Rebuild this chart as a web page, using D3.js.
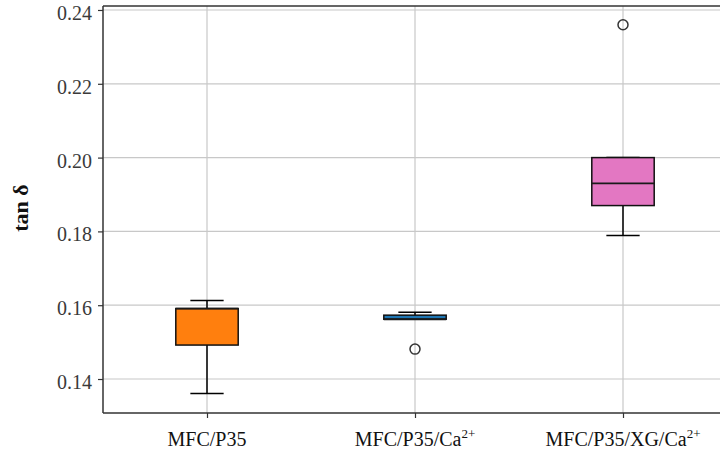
<!DOCTYPE html>
<html><head><meta charset="utf-8">
<script src="https://cdn.jsdelivr.net/npm/d3@7"></script>
<style>body{margin:0;background:#fff;}svg{display:block;}</style>
</head><body>
<svg id="c" width="720" height="454"></svg>
<script>
const categories = ["MFC/P35", "MFC/P35/Ca", "MFC/P35/XG/Ca"];
const superscripts = ["", "2+", "2+"];
const whiskerLow = [0.1361, 0.1562, 0.1789];
const q1 = [0.1492, 0.1562, 0.1870];
const median = [0.1591, 0.1562, 0.1930];
const q3 = [0.1591, 0.1573, 0.2000];
const whiskerHigh = [0.1613, 0.1581, 0.2000];
const outliers = [[], [0.1481], [0.2360]];
const colors = ["#ff7f0e", "#1f77b4", "#e377c2"];
const yTicks = [0.14, 0.16, 0.18, 0.20, 0.22, 0.24];
const yLabel = "tan δ";

const svg = d3.select("#c");
const mLeft = 103, mTop = 6, mBottom = 413, step = 208;
const x = d3.scaleLinear().domain([0.5, 3.5]).range([mLeft, mLeft + 3 * step]);
const y = d3.scaleLinear().domain([0.13079, 0.24108]).range([mBottom, mTop]);
const boxW = 0.3, capW = 0.16;

// grid
const g = svg.append("g");
g.selectAll(".hg").data(yTicks).join("line")
  .attr("x1", mLeft).attr("x2", 760).attr("y1", d => y(d)).attr("y2", d => y(d))
  .attr("stroke", "#c8c8c8").attr("stroke-width", 1.2);
g.selectAll(".vg").data(categories).join("line")
  .attr("x1", (d, i) => x(i + 1)).attr("x2", (d, i) => x(i + 1))
  .attr("y1", mTop).attr("y2", mBottom)
  .attr("stroke", "#c8c8c8").attr("stroke-width", 1.2);

// axes
const yAxis = d3.axisLeft(y).tickValues(yTicks).tickFormat(d3.format(".2f")).tickSize(5).tickPadding(6);
const ya = svg.append("g").attr("transform", `translate(${mLeft},0)`).call(yAxis);
ya.select(".domain").remove();
ya.selectAll(".tick line").attr("stroke", "#333").attr("stroke-width", 1.2);
ya.selectAll(".tick text").attr("font-family", "'Liberation Serif', serif").attr("font-size", 20)
  .attr("fill", "#3a3a3a").attr("dy", "0.47em");

const xAxis = d3.axisBottom(x).tickValues([1, 2, 3]).tickFormat("").tickSize(5);
const xa = svg.append("g").attr("transform", `translate(0,${mBottom})`).call(xAxis);
xa.select(".domain").remove();
xa.selectAll(".tick line").attr("stroke", "#333").attr("stroke-width", 1.2);

// x labels
categories.forEach((c, i) => {
  const t = svg.append("text").attr("x", x(i + 1)).attr("y", 446)
    .attr("text-anchor", "middle").attr("font-family", "'Liberation Serif', serif")
    .attr("font-size", 20).attr("fill", "#111");
  t.append("tspan").text(c);
  if (superscripts[i]) t.append("tspan").attr("dy", -8).attr("font-size", 13).text(superscripts[i]);
});

// y label
svg.append("text").attr("transform", `translate(28,208) rotate(-90)`)
  .attr("text-anchor", "middle").attr("font-family", "'Liberation Serif', serif")
  .attr("font-weight", "bold").attr("font-size", 22).attr("fill", "#111").text(yLabel);

// spines
svg.append("line").attr("x1", mLeft).attr("x2", mLeft).attr("y1", mTop).attr("y2", mBottom)
  .attr("stroke", "#333").attr("stroke-width", 1.5);
svg.append("line").attr("x1", mLeft).attr("x2", 760).attr("y1", mBottom).attr("y2", mBottom)
  .attr("stroke", "#333").attr("stroke-width", 1.5);
svg.append("line").attr("x1", mLeft).attr("x2", 760).attr("y1", mTop).attr("y2", mTop)
  .attr("stroke", "#333").attr("stroke-width", 1.5);

// boxes
const bg = svg.append("g");
categories.forEach((c, i) => {
  const cx = x(i + 1);
  const hw = (x(1 + boxW / 2) - x(1));
  const cw = (x(1 + capW / 2) - x(1));
  if (whiskerLow[i] < q1[i]) {
    bg.append("line").attr("x1", cx).attr("x2", cx).attr("y1", y(q1[i])).attr("y2", y(whiskerLow[i]))
      .attr("stroke", "#000").attr("stroke-width", 1.5);
    bg.append("line").attr("x1", cx - cw).attr("x2", cx + cw).attr("y1", y(whiskerLow[i])).attr("y2", y(whiskerLow[i]))
      .attr("stroke", "#000").attr("stroke-width", 1.5);
  }
  bg.append("line").attr("x1", cx).attr("x2", cx).attr("y1", y(q3[i])).attr("y2", y(whiskerHigh[i]))
    .attr("stroke", "#000").attr("stroke-width", 1.5);
  bg.append("line").attr("x1", cx - cw).attr("x2", cx + cw).attr("y1", y(whiskerHigh[i])).attr("y2", y(whiskerHigh[i]))
    .attr("stroke", "#000").attr("stroke-width", 1.5);
  bg.append("rect").attr("x", cx - hw).attr("width", 2 * hw)
    .attr("y", y(q3[i])).attr("height", y(q1[i]) - y(q3[i]))
    .attr("fill", colors[i]).attr("stroke", "#111").attr("stroke-width", 1.5);
  bg.append("line").attr("x1", cx - hw).attr("x2", cx + hw).attr("y1", y(median[i])).attr("y2", y(median[i]))
    .attr("stroke", "#1a1a1a").attr("stroke-width", 1.8);
  outliers[i].forEach(o => {
    bg.append("circle").attr("cx", cx).attr("cy", y(o)).attr("r", 5)
      .attr("fill", "none").attr("stroke", "#333").attr("stroke-width", 1.5);
  });
});
</script>
</body></html>
